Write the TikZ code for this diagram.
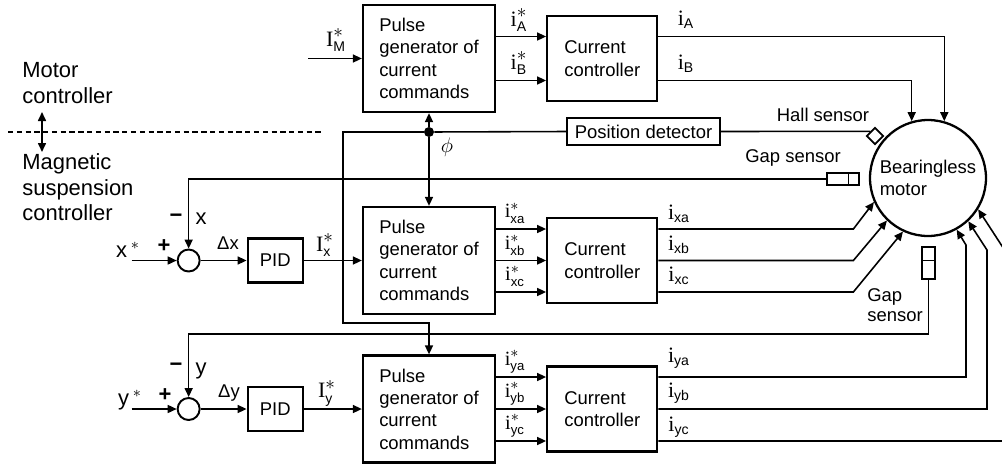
\documentclass[tikz,border=0pt]{standalone}
\usepackage{fontspec}
\usepackage{amsmath}
\setmainfont{Liberation Sans}
\newfontfamily\serifi{Liberation Serif}
\usetikzlibrary{arrows.meta,positioning,shapes.geometric,calc}
\newcommand{\senal}[2]{$\hbox{\serifi #1}_{\hbox{\fontsize{8}{9}\selectfont #2}}$}
\newcommand{\senalref}[2]{$\hbox{\serifi #1}_{\hbox{\fontsize{8}{9}\selectfont #2}}^{\hbox{\fontsize{11}{11}\selectfont$\ast$}}$}
\newcommand{\senalpar}[2]{$\hbox{\serifi #1}_{\hbox{\fontsize{7.5}{8}\selectfont #2}}^{\hbox{\fontsize{9}{9}\selectfont$\ast$}}$}

\begin{document}
\begin{tikzpicture}[
    x=0.02cm, y=-0.02cm,
    font=\fontsize{10.5}{12.7}\selectfont,
    caja/.style={draw, line width=1.3pt, align=left, inner sep=0pt},
    generador/.style={caja, minimum width=2.64cm, minimum height=2.14cm},
    control/.style={caja, minimum width=2.2cm, minimum height=1.7cm},
    pid/.style={caja, minimum width=1.1cm, minimum height=0.88cm, align=center},
    sumador/.style={circle, draw, line width=1.1pt, minimum size=0.44cm, inner sep=0pt},
    sensor/.style={draw, line width=1pt, inner sep=0pt, fill=white},
    flecha/.style={-{Triangle[length=1.8mm,width=1.6mm]}, line width=0.9pt},
    dobleflecha/.style={{Triangle[length=1.8mm,width=1.6mm]}-{Triangle[length=1.8mm,width=1.6mm]}, line width=0.9pt},
    linea/.style={line width=0.9pt},
    etiqueta/.style={inner sep=0pt},
    senales/.style={etiqueta, font=\fontsize{12.5}{14}\selectfont},
    fase/.style={etiqueta, font=\fontsize{11.5}{13}\selectfont},
    lado/.style={etiqueta, font=\fontsize{12.5}{14.7}\selectfont, align=left, anchor=north west}
  ]
    \useasboundingbox (0,0) rectangle (1002,468);
    \clip (0,0) rectangle (1002,468);

    \node[generador] (pgA) at (429,58.5) {Pulse\\generator of\\current\\commands};
    \node[control, right=1cm of pgA] (ccA) {Current\\controller};
    \node[generador] (pgX) at (429,260.5) {Pulse\\generator of\\current\\commands};
    \node[control, right=1cm of pgX] (ccX) {Current\\controller};
    \node[pid, left=1.16cm of pgX] (pidx) {PID};
    \node[sumador, left=0.92cm of pidx] (sumx) {};
    \node[generador] (pgY) at (429,409) {Pulse\\generator of\\current\\commands};
    \node[control, right=1cm of pgY] (ccY) {Current\\controller};
    \node[pid, left=1.16cm of pgY] (pidy) {PID};
    \node[sumador, left=0.92cm of pidy] (sumy) {};
    \node[caja, minimum width=3.06cm, minimum height=0.54cm, align=center] (pdet) at (643.5,131.5) {Position detector};
    \node[circle, draw, line width=1.3pt, minimum size=2.32cm, inner sep=0pt, align=left] (motor) at (928,178) {Bearingless\\motor};
    \node[sensor, diamond, minimum size=0.34cm] (hall) at (875,136) {};
    \node[sensor, minimum width=0.64cm, minimum height=0.24cm] (gapH) at (843,179) {};
    \node[sensor, minimum width=0.26cm, minimum height=0.64cm] (gapV) at (928.5,263) {};
    \node[fill, circle, inner sep=0pt, minimum size=0.2cm] (phi) at (429,132) {};
    \coordinate (imin) at (308,58.5);
    \coordinate (xin) at ([xshift=-0.9cm]sumx.west);
    \coordinate (yin) at ([xshift=-0.9cm]sumy.west);
    \coordinate (sepizq) at (8,132);
    \coordinate (sepder) at (322,132);
    \coordinate (nivelsup) at (42,112);
    \coordinate (nivelinf) at (42,152);

    \node[lado] (motorctl) at (22,62) {Motor\\controller};
    \node[lado] (magctl) at (22,153) {Magnetic\\suspension\\controller};
    \node[senales] (lIM) at (336,40) {\senalref{I}{M}};
    \node[senales] (liAr) at (519,20) {\senalref{i}{A}};
    \node[senales] (liBr) at (519,63) {\senalref{i}{B}};
    \node[senales] (liA) at (686,20) {\senal{i}{A}};
    \node[senales] (liB) at (686,64) {\senal{i}{B}};
    \node[senales] (lphi) at (447,147) {$\phi$};
    \node[etiqueta] (lhall) at (823,115) {Hall sensor};
    \node[etiqueta] (lgapH) at (793,158) {Gap sensor};
    \node[etiqueta, align=left, anchor=north west, font=\fontsize{10.5}{11.5}\selectfont] (lgapV) at (867,288) {Gap\\sensor};
    \node[senales] (lmenx) at (176,218) {\bfseries −};
    \node[senales] (lx) at (201,219) {x};
    \node[senales] (lmasx) at (164,246) {\bfseries +};
    \node[senales] (lxref) at (128,250) {x\,$^{*}$};
    \node[etiqueta] (ldx) at (228,243) {Δx};
    \node[senales] (lIx) at (325,245) {\senalref{I}{x}};
    \node[fase] (lixar) at (515,213) {\senalpar{i}{xa}};
    \node[fase] (lixbr) at (515,245) {\senalpar{i}{xb}};
    \node[fase] (lixcr) at (515,276) {\senalpar{i}{xc}};
    \node[senales] (lixa) at (679,214) {\senal{i}{xa}};
    \node[senales] (lixb) at (679,245) {\senal{i}{xb}};
    \node[senales] (lixc) at (679,276) {\senal{i}{xc}};
    \node[senales] (lmeny) at (176,367) {\bfseries −};
    \node[senales] (ly) at (201,371) {y};
    \node[senales] (lmasy) at (165,395) {\bfseries +};
    \node[senales] (lyref) at (130,400) {y\,$^{*}$};
    \node[etiqueta] (ldy) at (229,393) {Δy};
    \node[senales] (lIy) at (327,393) {\senalref{I}{y}};
    \node[fase] (liyar) at (515,362) {\senalpar{i}{ya}};
    \node[fase] (liybr) at (515,394) {\senalpar{i}{yb}};
    \node[fase] (liycr) at (515,426) {\senalpar{i}{yc}};
    \node[senales] (liya) at (679,358) {\senal{i}{ya}};
    \node[senales] (liyb) at (679,393) {\senal{i}{yb}};
    \node[senales] (liyc) at (679,427) {\senal{i}{yc}};

    \draw[linea, dash pattern=on 3pt off 2pt] (sepizq) -- (sepder);
    \draw[dobleflecha] (nivelsup) -- (nivelinf);

    \draw[flecha] (imin) -- (pgA.west);
    \foreach \dy in {0.44,-0.44}
      \draw[flecha] ([yshift=\dy cm]pgA.east) -- ([yshift=\dy cm]ccA.west);
    \draw[flecha] ([yshift=0.44cm]ccA.east) -| (motor.74);
    \draw[flecha] ([yshift=-0.44cm]ccA.east) -| (motor.106);

    \draw[linea] (pdet.east) -- (hall.north west);
    \draw[linea] (pdet.west) -- (phi);
    \draw[flecha] (phi) -- (pgA.south);
    \draw[flecha] (phi) -- (pgX.north);
    \draw[flecha] (phi) -- (343,132) -- (343,323) -| (pgY.north);

    \draw[flecha] (gapH.west) -| (sumx.north);
    \draw[flecha] (gapV.south) -- (gapV.south |- 0,334) -| (sumy.north);
    \draw[linea] ($(gapH.north west)!0.66!(gapH.north east)$) -- ($(gapH.south west)!0.66!(gapH.south east)$);
    \draw[linea] ($(gapV.north west)!0.42!(gapV.south west)$) -- ($(gapV.north east)!0.42!(gapV.south east)$);

    \draw[flecha] (xin) -- (sumx.west);
    \draw[flecha] (sumx) -- (pidx);
    \draw[flecha] (pidx) -- (pgX);
    \draw[flecha] (yin) -- (sumy.west);
    \draw[flecha] (sumy) -- (pidy);
    \draw[flecha] (pidy) -- (pgY);

    \foreach \dy/\ang in {0.63/204,0/226,-0.63/245} {
      \draw[flecha] ([yshift=\dy cm]pgX.east) -- ([yshift=\dy cm]ccX.west);
      \draw[flecha] ([yshift=\dy cm]ccX.east) -- ++(195,0) -- (motor.\ang);
    }
    \foreach \dy in {0.64,0,-0.64}
      \draw[flecha] ([yshift=\dy cm]pgY.east) -- ([yshift=\dy cm]ccY.west);
    \draw[flecha] ([yshift=0.64cm]ccY.east) -| (966,245) -- (motor.299);
    \draw[flecha] (ccY.east) -| (987,250) -- (motor.313);
    \draw[flecha] ([yshift=-0.64cm]ccY.east) -| (1015,266) -- (motor.328);
  \end{tikzpicture}
\end{document}
